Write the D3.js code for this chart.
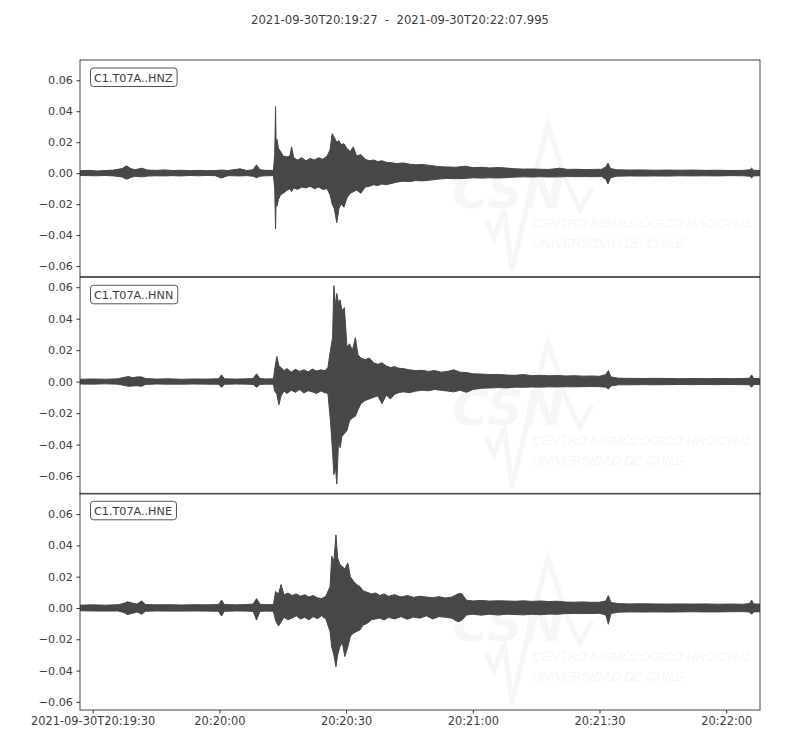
<!DOCTYPE html>
<html>
<head>
<meta charset="utf-8">
<script src="https://cdn.jsdelivr.net/npm/d3@7"></script>
<style>
  html, body { margin: 0; padding: 0; background: #fff; }
  svg { display: block; font-family: "DejaVu Sans", sans-serif; }
</style>
</head>
<body>
<svg id="chart" width="800" height="750"></svg>
<script>
// ---------------- DATA ----------------
const startTime = "2021-09-30T20:19:27.000Z";
const endTime = "2021-09-30T20:22:07.995Z";
const titleText = "2021-09-30T20:19:27  -  2021-09-30T20:22:07.995";
const channels = ["C1.T07A..HNZ", "C1.T07A..HNN", "C1.T07A..HNE"];
const yTicks = [-0.06, -0.04, -0.02, 0.00, 0.02, 0.04, 0.06];
const yDomains = [[-0.0669, 0.0731], [-0.0714, 0.0663], [-0.0652, 0.0733]];
const xTickFirstLabel = "2021-09-30T20:19:30";
const watermarkLines = ["CENTRO SISMOLÓGICO NACIONAL", "UNIVERSIDAD DE CHILE"];

// envelope samples: seconds after start, upper (max) and lower (min) amplitude
const hnzT = [0,2,4,6,8,10,11,12,13,14.6,16,18,20,22,24,26,28,30,32,33.5,35,37.9,39.5,41,41.8,42.6,44,45.8,46.1,46.3,46.45,46.6,47,47.5,48.1,49,49.7,50.1,50.6,51.5,52.5,53.5,54.5,55.5,56.5,57.5,58.5,59.2,59.7,60.2,60.8,61.3,61.8,62.5,63.2,64,64.7,65.5,66.5,67.5,68.5,69.5,70.5,71.5,72.5,73.5,75,76.5,78,79.5,81,82.9,85,87,89,91.2,93,95,97,99,101,103,105,107,109,111,113.6,115.5,117.5,119.5,121.5,123.5,124.5,125,125.6,127,130,133,136,139,142,145,148,151,154,157,158.6,159,159.5,161];
const hnzMax = [0.0015,0.0018,0.0014,0.0017,0.0020,0.0030,0.0047,0.0030,0.0022,0.0032,0.0020,0.0018,0.0021,0.0017,0.0019,0.0016,0.0018,0.0016,0.0017,0.0020,0.0017,0.0028,0.0017,0.0022,0.0054,0.0022,0.0018,0.0018,0.0120,0.0430,0.0160,0.0220,0.0160,0.0140,0.0110,0.0105,0.0110,0.0170,0.0100,0.0085,0.0100,0.0080,0.0095,0.0085,0.0100,0.0090,0.0110,0.0150,0.0255,0.0230,0.0200,0.0210,0.0185,0.0190,0.0160,0.0140,0.0170,0.0110,0.0120,0.0090,0.0080,0.0085,0.0075,0.0080,0.0070,0.0068,0.0062,0.0066,0.0058,0.0054,0.0056,0.0050,0.0042,0.0040,0.0038,0.0045,0.0036,0.0038,0.0034,0.0036,0.0033,0.0028,0.0026,0.0027,0.0025,0.0024,0.0032,0.0024,0.0025,0.0023,0.0024,0.0025,0.0040,0.0065,0.0030,0.0022,0.0020,0.0021,0.0019,0.0020,0.0019,0.0020,0.0018,0.0019,0.0017,0.0018,0.0022,0.0032,0.0019,0.0017];
const hnzMin = [-0.0015,-0.0016,-0.0017,-0.0015,-0.0018,-0.0025,-0.0040,-0.0028,-0.0020,-0.0024,-0.0019,-0.0017,-0.0018,-0.0016,-0.0018,-0.0015,-0.0017,-0.0015,-0.0016,-0.0032,-0.0016,-0.0018,-0.0016,-0.0020,-0.0030,-0.0020,-0.0017,-0.0016,-0.0100,-0.0360,-0.0150,-0.0215,-0.0170,-0.0140,-0.0130,-0.0110,-0.0100,-0.0120,-0.0095,-0.0105,-0.0090,-0.0095,-0.0085,-0.0100,-0.0090,-0.0105,-0.0100,-0.0140,-0.0200,-0.0230,-0.0320,-0.0230,-0.0200,-0.0220,-0.0160,-0.0130,-0.0120,-0.0110,-0.0130,-0.0090,-0.0085,-0.0075,-0.0080,-0.0070,-0.0075,-0.0068,-0.0058,-0.0052,-0.0055,-0.0048,-0.0050,-0.0045,-0.0038,-0.0034,-0.0036,-0.0034,-0.0030,-0.0032,-0.0030,-0.0031,-0.0029,-0.0025,-0.0024,-0.0025,-0.0023,-0.0025,-0.0024,-0.0022,-0.0023,-0.0022,-0.0023,-0.0022,-0.0040,-0.0070,-0.0030,-0.0020,-0.0018,-0.0019,-0.0018,-0.0019,-0.0017,-0.0018,-0.0017,-0.0018,-0.0016,-0.0017,-0.0020,-0.0030,-0.0018,-0.0016];

const hnnT = [0,3,6,9,10.5,11.5,12.5,13.5,14.6,15.5,18,21,24,27,30,32.8,33.5,34.2,37,39.5,41,41.8,42.6,44,45.8,46.1,46.6,47.1,47.6,48.3,49,50,51,52,53,54,55,56,57,58,58.7,59.3,59.8,60.1,60.5,60.8,61.2,61.6,62,62.6,63.2,63.8,64.5,65.2,65.8,66.5,67.5,68.5,69.5,70.5,71.5,72.5,73.5,74.5,75.5,76.5,78,79.5,81,82.5,84,85.5,87,88.5,90,91.5,93,95,97,99,101,103,105,107,109,111,113,115,117,119,121,123,124.5,125.1,125.7,127.5,130,133,136,139,142,145,148,151,154,157,158.5,159,159.5,161];
const hnnMax = [0.0015,0.0017,0.0015,0.0018,0.0028,0.0032,0.0025,0.0030,0.0030,0.0020,0.0016,0.0018,0.0015,0.0017,0.0016,0.0018,0.0043,0.0018,0.0016,0.0018,0.0020,0.0050,0.0020,0.0017,0.0018,0.0080,0.0160,0.0100,0.0090,0.0070,0.0083,0.0060,0.0078,0.0065,0.0075,0.0062,0.0080,0.0068,0.0075,0.0070,0.0090,0.0200,0.0280,0.0610,0.0480,0.0560,0.0500,0.0520,0.0450,0.0470,0.0220,0.0240,0.0200,0.0280,0.0170,0.0150,0.0140,0.0150,0.0120,0.0110,0.0120,0.0100,0.0090,0.0095,0.0085,0.0083,0.0075,0.0070,0.0072,0.0065,0.0070,0.0060,0.0065,0.0075,0.0060,0.0058,0.0050,0.0048,0.0045,0.0046,0.0042,0.0040,0.0045,0.0038,0.0040,0.0037,0.0039,0.0036,0.0038,0.0035,0.0036,0.0034,0.0045,0.0070,0.0030,0.0022,0.0021,0.0020,0.0021,0.0020,0.0019,0.0020,0.0019,0.0020,0.0019,0.0020,0.0022,0.0043,0.0020,0.0019];
const hnnMin = [-0.0015,-0.0016,-0.0014,-0.0016,-0.0025,-0.0030,-0.0028,-0.0026,-0.0030,-0.0018,-0.0015,-0.0016,-0.0016,-0.0015,-0.0016,-0.0017,-0.0036,-0.0017,-0.0015,-0.0016,-0.0018,-0.0036,-0.0018,-0.0016,-0.0017,-0.0060,-0.0080,-0.0147,-0.0090,-0.0060,-0.0075,-0.0055,-0.0068,-0.0050,-0.0072,-0.0058,-0.0065,-0.0075,-0.0060,-0.0070,-0.0075,-0.0250,-0.0450,-0.0590,-0.0550,-0.0650,-0.0380,-0.0420,-0.0350,-0.0330,-0.0310,-0.0250,-0.0230,-0.0220,-0.0180,-0.0140,-0.0120,-0.0110,-0.0100,-0.0090,-0.0140,-0.0085,-0.0110,-0.0080,-0.0070,-0.0065,-0.0070,-0.0060,-0.0055,-0.0058,-0.0050,-0.0055,-0.0060,-0.0065,-0.0055,-0.0068,-0.0050,-0.0042,-0.0040,-0.0038,-0.0040,-0.0035,-0.0036,-0.0034,-0.0035,-0.0033,-0.0034,-0.0032,-0.0033,-0.0032,-0.0031,-0.0032,-0.0035,-0.0047,-0.0028,-0.0020,-0.0020,-0.0019,-0.0020,-0.0019,-0.0018,-0.0019,-0.0018,-0.0019,-0.0018,-0.0019,-0.0020,-0.0036,-0.0019,-0.0018];

const hneT = [0,3,6,9,10.5,11.2,12.3,13.5,14.6,15.5,18,21,24,27,30,32.8,33.5,34.2,37,39.5,41,41.8,42.6,44,45.8,46.3,47,47.6,48.3,49.2,50.2,51.2,52.2,53.2,54.2,55.2,56.2,57.2,58.2,59.2,59.6,60.1,60.6,61,61.5,62.1,62.7,63.4,64,64.8,65.5,66.3,67,68,69,70,71,72,73,74.5,76,77.5,79,80.5,82,83.5,85,86.5,88,89.5,90.3,91.5,93,95,97,99,101,103,105,107,109,111,113,115,117,119,121,123,124.5,125.1,125.7,127.5,130,133,136,139,142,145,148,151,154,157,158.5,159,159.5,161];
const hneMax = [0.0018,0.0020,0.0018,0.0021,0.0030,0.0040,0.0032,0.0025,0.0045,0.0022,0.0020,0.0021,0.0019,0.0021,0.0020,0.0022,0.0050,0.0022,0.0020,0.0022,0.0025,0.0060,0.0024,0.0021,0.0022,0.0105,0.0090,0.0150,0.0085,0.0095,0.0080,0.0090,0.0075,0.0085,0.0070,0.0080,0.0065,0.0060,0.0075,0.0136,0.0330,0.0300,0.0467,0.0320,0.0280,0.0264,0.0250,0.0288,0.0200,0.0170,0.0150,0.0136,0.0110,0.0100,0.0090,0.0096,0.0080,0.0090,0.0075,0.0085,0.0070,0.0080,0.0068,0.0075,0.0070,0.0066,0.0072,0.0064,0.0070,0.0090,0.0094,0.0050,0.0045,0.0048,0.0044,0.0046,0.0045,0.0043,0.0046,0.0042,0.0045,0.0041,0.0043,0.0038,0.0037,0.0039,0.0036,0.0037,0.0045,0.0079,0.0035,0.0028,0.0026,0.0027,0.0026,0.0025,0.0026,0.0025,0.0026,0.0024,0.0025,0.0024,0.0028,0.0050,0.0026,0.0025];
const hneMin = [-0.0018,-0.0019,-0.0020,-0.0019,-0.0030,-0.0042,-0.0035,-0.0025,-0.0040,-0.0021,-0.0019,-0.0020,-0.0020,-0.0019,-0.0020,-0.0021,-0.0051,-0.0021,-0.0019,-0.0020,-0.0022,-0.0077,-0.0022,-0.0020,-0.0021,-0.0080,-0.0115,-0.0090,-0.0060,-0.0075,-0.0065,-0.0050,-0.0070,-0.0060,-0.0075,-0.0055,-0.0068,-0.0050,-0.0070,-0.0150,-0.0250,-0.0300,-0.0375,-0.0300,-0.0250,-0.0220,-0.0310,-0.0250,-0.0180,-0.0160,-0.0150,-0.0140,-0.0110,-0.0098,-0.0075,-0.0070,-0.0065,-0.0077,-0.0060,-0.0070,-0.0055,-0.0072,-0.0058,-0.0065,-0.0050,-0.0070,-0.0055,-0.0060,-0.0065,-0.0088,-0.0080,-0.0045,-0.0040,-0.0046,-0.0040,-0.0045,-0.0040,-0.0042,-0.0044,-0.0040,-0.0043,-0.0039,-0.0040,-0.0036,-0.0035,-0.0036,-0.0035,-0.0034,-0.0045,-0.0104,-0.0035,-0.0027,-0.0025,-0.0026,-0.0025,-0.0026,-0.0025,-0.0024,-0.0025,-0.0025,-0.0024,-0.0023,-0.0026,-0.0040,-0.0025,-0.0024];

const traces = [
  { t: hnzT, max: hnzMax, min: hnzMin },
  { t: hnnT, max: hnnMax, min: hnnMin },
  { t: hneT, max: hneMax, min: hneMin }
];

// ---------------- LAYOUT ----------------
const svg = d3.select("#chart");
const left = 80, right = 760;
const panelTops = [60, 277.3, 493.3];
const panelH = 216.7;
const ink = "#474747";
const textCol = "#3d3d3d";
const wmCol = "#f6f6f6";
const t0 = new Date(startTime);
const t1 = new Date(endTime);
const x = d3.scaleUtc().domain([t0, t1]).range([left, right]);
const toDate = s => new Date(t0.getTime() + s * 1000);

svg.append("text")
  .attr("x", 400).attr("y", 24)
  .attr("text-anchor", "middle")
  .attr("font-size", 11.6)
  .attr("fill", textCol)
  .style("white-space", "pre")
  .text(titleText);

channels.forEach((name, i) => {
  const top = panelTops[i];
  const y = d3.scaleLinear().domain(yDomains[i]).range([top + panelH, top]);
  const g = svg.append("g");
  const clipId = "clip" + i;
  svg.append("clipPath").attr("id", clipId)
    .append("rect").attr("x", left).attr("y", top).attr("width", right - left).attr("height", panelH);

  // faint watermark (fits inside the panel)
  const wm = g.append("g").attr("fill", wmCol);
  wm.append("text").attr("x", 452).attr("y", top + 148).attr("font-size", 50)
    .attr("font-weight", "bold").attr("font-style", "italic").text("CSN");
  wm.append("path")
    .attr("d", `M486,${top+160} L494,${top+178} L504,${top+150} L512,${top+210} L532,${top+125} L548,${top+65} L566,${top+120} L580,${top+150} L592,${top+128}`)
    .attr("fill", "none").attr("stroke", wmCol).attr("stroke-width", 5);
  watermarkLines.forEach((ln, k) => {
    wm.append("text").attr("x", 532).attr("y", top + 168 + k * 20).attr("font-size", 13)
      .attr("font-family", "Liberation Sans, sans-serif")
      .attr("font-style", "italic")
      .text(ln);
  });

  // waveform envelope
  const tr = traces[i];
  const pts = tr.t.map((s, k) => ({ d: toDate(s), hi: tr.max[k], lo: tr.min[k] }));
  const area = d3.area().x(p => x(p.d)).y0(p => y(p.lo)).y1(p => y(p.hi));
  g.append("path").datum(pts)
    .attr("clip-path", `url(#${clipId})`)
    .attr("d", area)
    .attr("fill", ink).attr("stroke", ink).attr("stroke-width", 1).attr("stroke-linejoin", "round");

  // frame
  g.append("rect").attr("x", left).attr("y", top).attr("width", right - left).attr("height", panelH)
    .attr("fill", "none").attr("stroke", "#333").attr("stroke-width", 0.9);

  // y axis
  const yAxis = d3.axisLeft(y).tickValues(yTicks).tickSize(3.5).tickPadding(3.5)
    .tickFormat(v => d3.format(".2f")(v).replace("-", "\u2212"));
  const ya = g.append("g").attr("transform", `translate(${left},0)`).call(yAxis);
  ya.select(".domain").remove();
  ya.selectAll("line").attr("stroke", "#333");
  ya.selectAll("text").attr("font-size", 11.2).attr("fill", textCol).attr("font-family", "DejaVu Sans");

  // channel label box
  const lbl = g.append("g");
  const tx = lbl.append("text").attr("x", 94).attr("y", top + 21.5)
    .attr("font-size", 11.2).attr("fill", textCol).text(name);
  const w = tx.node().getComputedTextLength();
  lbl.insert("rect", "text").attr("x", 90.5).attr("y", top + 8)
    .attr("width", w + 8).attr("height", 18.5).attr("rx", 3)
    .attr("fill", "#fff").attr("stroke", "#555").attr("stroke-width", 1);

  // bottom time axis on last panel only
  if (i === channels.length - 1) {
    const ticks = d3.utcSecond.every(30).range(t0, t1);
    const fmt = d3.utcFormat("%H:%M:%S");
    const xAxis = d3.axisBottom(x).tickValues(ticks).tickSize(3.5).tickPadding(3.5)
      .tickFormat((d, k) => k === 0 ? xTickFirstLabel : fmt(d));
    const xa = g.append("g").attr("transform", `translate(0,${top + panelH})`).call(xAxis);
    xa.select(".domain").remove();
    xa.selectAll("line").attr("stroke", "#333");
    xa.selectAll("text").attr("font-size", 11.4).attr("fill", textCol).attr("font-family", "DejaVu Sans");
  }
});
</script>
</body>
</html>
